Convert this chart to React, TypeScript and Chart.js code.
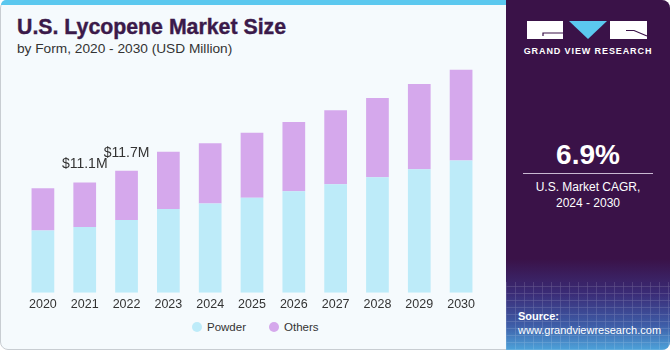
import React, { useEffect, useRef } from "react";
import { Chart, registerables } from "chart.js";

Chart.register(...registerables);

const years = ["2020", "2021", "2022", "2023", "2024", "2025", "2026", "2027", "2028", "2029", "2030"];
const powder = [6.27, 6.62, 7.33, 8.44, 8.98, 9.58, 10.22, 10.93, 11.64, 12.45, 13.33];
const others = [4.25, 4.48, 4.95, 5.77, 6.07, 6.55, 6.98, 7.46, 7.99, 8.57, 9.14];
const totalLabels = ["", "$11.1M", "$11.7M", "", "", "", "", "", "", "", ""];
const seriesNames = ["Powder", "Others"];
const seriesColors = ["#BDEBF9", "#D5A8EC"];

const FONT = "'Liberation Sans', Arial, sans-serif";

const totalsPlugin = {
  id: "totals",
  afterDatasetsDraw(chart: any) {
    const ctx = chart.ctx;
    const meta = chart.getDatasetMeta(1);
    ctx.save();
    ctx.font = `14px ${FONT}`;
    ctx.fillStyle = "#333333";
    ctx.textAlign = "center";
    ctx.textBaseline = "bottom";
    meta.data.forEach((el: any, i: number) => {
      const t = totalLabels[i];
      if (t) ctx.fillText(t, el.x, el.y - 11);
    });
    ctx.restore();
  },
};

export default function App() {
  const ref = useRef<HTMLCanvasElement>(null);
  useEffect(() => {
    if (!ref.current) return;
    const chart = new Chart(ref.current, {
      type: "bar",
      data: {
        labels: years,
        datasets: [
          { label: seriesNames[0], data: powder, backgroundColor: seriesColors[0], borderWidth: 0 },
          { label: seriesNames[1], data: others, backgroundColor: seriesColors[1], borderWidth: 0 },
        ],
      },
      options: {
        responsive: false,
        animation: false,
        devicePixelRatio: 1,
        layout: { padding: { left: 22, right: 24, top: 0, bottom: 4.3 } },
        plugins: { legend: { display: false }, tooltip: { enabled: false } },
        datasets: { bar: { categoryPercentage: 1, barPercentage: 0.543 } },
        scales: {
          x: {
            stacked: true,
            grid: { display: false, drawTicks: false },
            border: { display: false },
            ticks: { color: "#333333", font: { size: 12.5, family: FONT }, padding: 4 },
          },
          y: { stacked: true, display: false, min: 0, max: 23.45 },
        },
      },
      plugins: [totalsPlugin],
    });
    return () => chart.destroy();
  }, []);

  return (
    <div style={{ position: "relative", width: 670, height: 350, overflow: "hidden", fontFamily: FONT }}>
      <style>{`body{margin:0}`}</style>
      <div
        style={{
          position: "absolute", left: 0, top: 0, width: 668, height: 348,
          border: "1px solid #C8CDD2", borderRadius: 8, background: "#F5FAFD", overflow: "hidden",
        }}
      />
      <div style={{ position: "absolute", left: 1, top: 0, width: 505, height: 5, background: "#5BC8EF", borderTopLeftRadius: 8 }} />
      <div style={{ position: "absolute", left: 17, top: 15, fontSize: 21.3, fontWeight: 700, color: "#3B1A4A", whiteSpace: "nowrap", WebkitTextStroke: "0.4px #3B1A4A" }}>
        U.S. Lycopene Market Size
      </div>
      <div style={{ position: "absolute", left: 17, top: 41, fontSize: 13.7, color: "#333333", whiteSpace: "nowrap" }}>
        by Form, 2020 - 2030 (USD Million)
      </div>
      <canvas ref={ref} width={506} height={260} style={{ position: "absolute", left: 0, top: 60, width: 506, height: 260 }} />
      <div style={{ position: "absolute", left: 192, top: 321, display: "flex", alignItems: "center", fontSize: 11.5, color: "#333333" }}>
        <span style={{ width: 10, height: 10, borderRadius: 5, background: seriesColors[0], display: "inline-block", marginRight: 5 }} />
        <span style={{ marginRight: 23 }}>{seriesNames[0]}</span>
        <span style={{ width: 10, height: 10, borderRadius: 5, background: seriesColors[1], display: "inline-block", marginRight: 5 }} />
        <span>{seriesNames[1]}</span>
      </div>
      <div
        style={{
          position: "absolute", left: 506, top: 0, width: 164, height: 350,
          borderTopRightRadius: 8, borderBottomRightRadius: 8, overflow: "hidden",
          background: "linear-gradient(180deg, #3A1248 0%, #3A1248 74%, #3B2D78 84%, #3F5EA8 93%, #4EA3DA 100%)",
        }}
      >
        <div
          style={{
            position: "absolute", left: 0, top: 282, width: 164, height: 68, opacity: 0.2,
            backgroundImage:
              "repeating-linear-gradient(90deg, rgba(255,255,255,0.6) 0 1px, transparent 1px 9px), repeating-linear-gradient(0deg, rgba(255,255,255,0.6) 0 1px, transparent 1px 7px)",
          }}
        />
        <svg width={164} height={60} style={{ position: "absolute", left: 0, top: 0 }}>
          <rect x={21} y={21} width={36} height={18} fill="#FFFFFF" />
          <path d="M37 33 H57 M37 32.5 V36" stroke="#3A1248" strokeWidth={1.2} fill="none" />
          <polygon points="63,21 101,21 82,39" fill="#5BC8EF" />
          <rect x={104} y={21} width={37} height={18} fill="#FFFFFF" />
          <path d="M120 30.5 H128 L141 36" stroke="#3A1248" strokeWidth={1.2} fill="none" />
        </svg>
        <div style={{ position: "absolute", left: 0, width: 164, top: 46, textAlign: "center", color: "#FFFFFF", fontSize: 9, fontWeight: 700, letterSpacing: 0.9 }}>
          GRAND VIEW RESEARCH
        </div>
        <div style={{ position: "absolute", left: 0, width: 164, top: 139, textAlign: "center", color: "#FFFFFF", fontSize: 28, fontWeight: 700 }}>
          6.9%
        </div>
        <div style={{ position: "absolute", left: 17, width: 130, top: 173, height: 1, background: "#C9B9D2" }} />
        <div style={{ position: "absolute", left: 0, width: 164, top: 179, textAlign: "center", color: "#FFFFFF", fontSize: 12, lineHeight: "16px" }}>
          U.S. Market CAGR,<br />2024 - 2030
        </div>
        <div style={{ position: "absolute", left: 12, top: 309, color: "#FFFFFF", fontSize: 11, lineHeight: "14px" }}>
          <b>Source:</b><br />www.grandviewresearch.com
        </div>
      </div>
    </div>
  );
}
